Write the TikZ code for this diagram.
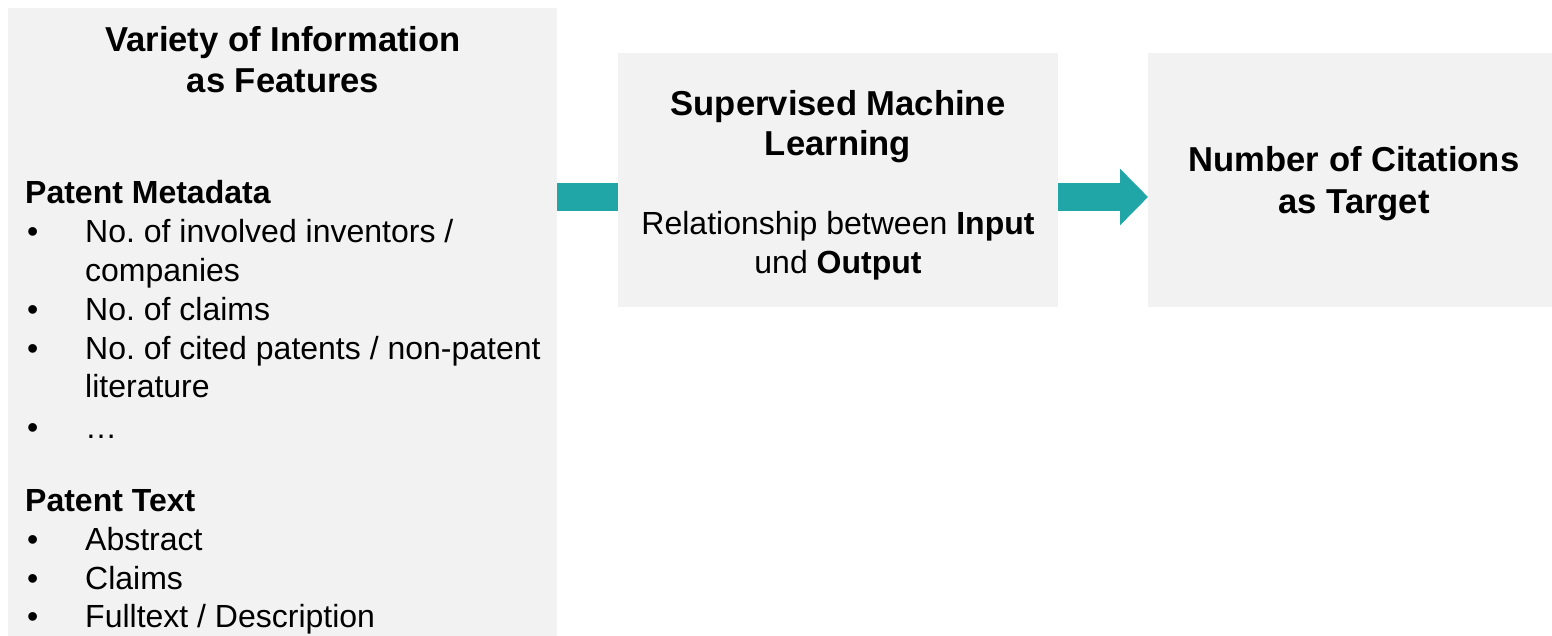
\documentclass[tikz,border=0pt]{standalone}
\usepackage{fontspec}
\setmainfont{Liberation Sans}
\frenchspacing
\usetikzlibrary{arrows.meta}
\definecolor{panel}{HTML}{F2F2F2}
\definecolor{flow}{HTML}{20A6A6}
\begin{document}
\begin{tikzpicture}[x=1pt,y=-1pt,
  panelbox/.style={fill=panel, draw=none, anchor=north west, inner sep=0pt, outer sep=0pt},
  txt/.style={anchor=base, inner sep=0pt, font=\fontsize{32}{38}\selectfont},
  ttl/.style={anchor=base, inner sep=0pt, font=\fontsize{34.6}{40}\selectfont\bfseries},
  lft/.style={txt, anchor=base west},
  head/.style={anchor=base west, inner sep=0pt, font=\fontsize{32}{38}\selectfont\bfseries},
  flowbar/.style={draw=flow, line width=28pt},
]
\useasboundingbox (0,0) rectangle (1552,636);

% three panels
\node[panelbox, minimum width=549pt, minimum height=628pt] (feat) at (8,8) {};
\node[panelbox, minimum width=440pt, minimum height=254pt] (sml) at (618,53) {};
\node[panelbox, minimum width=404pt, minimum height=254pt] (cit) at (1148,53) {};

% feature panel
\node[ttl] (ft1) at (283,52) {Variety of Information};
\node[ttl] (ft2) at (283,93) {as Features};

\node[head] (h1) at (25,204) {Patent Metadata};
\node[lft] (b1) at (27,243) {•};
\node[lft] (t1) at (85,243) {No. of involved inventors /};
\node[lft] (t1b) at (85,281) {companies};
\node[lft] (b2) at (27,320) {•};
\node[lft] (t2) at (85,320) {No. of claims};
\node[lft] (b3) at (27,359) {•};
\node[lft] (t3) at (85,359) {No. of cited patents / non-patent};
\node[lft] (t3b) at (85,397) {literature};
\node[lft] (b4) at (27,438) {•};
\node[lft] (t4) at (85,438) {…};

\node[head] (h2) at (25,511) {Patent Text};
\node[lft] (b5) at (27,550) {•};
\node[lft] (t5) at (85,550) {Abstract};
\node[lft] (b6) at (27,589) {•};
\node[lft] (t6) at (85,589) {Claims};
\node[lft] (b7) at (27,627) {•};
\node[lft] (t7) at (85,627) {Fulltext / Description};

% learning panel
\node[ttl] (ml1) at (838,116) {Supervised Machine};
\node[ttl] (ml2) at (838,156) {Learning};
\node[txt] (ml3) at (838,235) {Relationship between \textbf{Input}};
\node[txt] (ml4) at (838,274) {und \textbf{Output}};

% target panel
\node[ttl] (ct1) at (1354,172) {Number of Citations};
\node[ttl] (ct2) at (1354,214) {as Target};

% connectors
\coordinate (lvl) at (0,197);
\draw[flowbar] (feat.east |- lvl) -- (sml.west |- lvl);
\draw[flowbar, -{Triangle[width=55pt, length=28pt]}] (sml.east |- lvl) -- (cit.west |- lvl);
\end{tikzpicture}
\end{document}
